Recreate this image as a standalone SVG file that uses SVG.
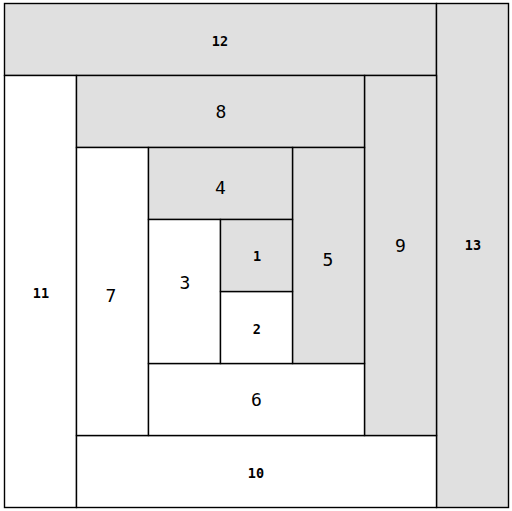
<svg xmlns="http://www.w3.org/2000/svg" width="512" height="511" viewBox="0 0 512 511">
<style>
rect{stroke:#000;stroke-width:1.4}
.g{fill:#e0e0e0}
.w{fill:#fff}
text{font-family:"DejaVu Sans Mono","Liberation Mono",monospace;text-anchor:middle;fill:#000}
.L{font-size:18px}
.S{font-size:13.5px;font-weight:bold}
</style>
<rect x="0" y="0" width="512" height="511" fill="#fff" style="stroke:none"/>
<g id="n12"><rect class="g" x="4.5" y="3.5" width="432" height="72"/><text class="S" x="220" y="45.9">12</text></g>
<g id="n13"><rect class="g" x="436.5" y="3.5" width="72" height="504"/><text class="S" x="473" y="249.9">13</text></g>
<g id="n11"><rect class="w" x="4.5" y="75.5" width="72" height="432"/><text class="S" x="41" y="298.4">11</text></g>
<g id="n10"><rect class="w" x="76.5" y="435.5" width="360" height="72"/><text class="S" x="256" y="477.9">10</text></g>
<g id="n9"><rect class="g" x="364.5" y="75.5" width="72" height="360"/><text class="L" x="400.5" y="251.5">9</text></g>
<g id="n8"><rect class="g" x="76.5" y="75.5" width="288" height="72"/><text class="L" x="221" y="117.5">8</text></g>
<g id="n7"><rect class="w" x="76.5" y="147.5" width="72" height="288"/><text class="L" x="111" y="301.5">7</text></g>
<g id="n6"><rect class="w" x="148.5" y="363.5" width="216" height="72"/><text class="L" x="256.5" y="405.5">6</text></g>
<g id="n5"><rect class="g" x="292.5" y="147.5" width="72" height="216"/><text class="L" x="328" y="265.5">5</text></g>
<g id="n4"><rect class="g" x="148.5" y="147.5" width="144" height="72"/><text class="L" x="220.5" y="194">4</text></g>
<g id="n3"><rect class="w" x="148.5" y="219.5" width="72" height="144"/><text class="L" x="185" y="288.5">3</text></g>
<g id="n2"><rect class="w" x="220.5" y="291.5" width="72" height="72"/><text class="S" x="256.7" y="333.9">2</text></g>
<g id="n1"><rect class="g" x="220.5" y="219.5" width="72" height="72"/><text class="S" x="257" y="261.4">1</text></g>
</svg>
